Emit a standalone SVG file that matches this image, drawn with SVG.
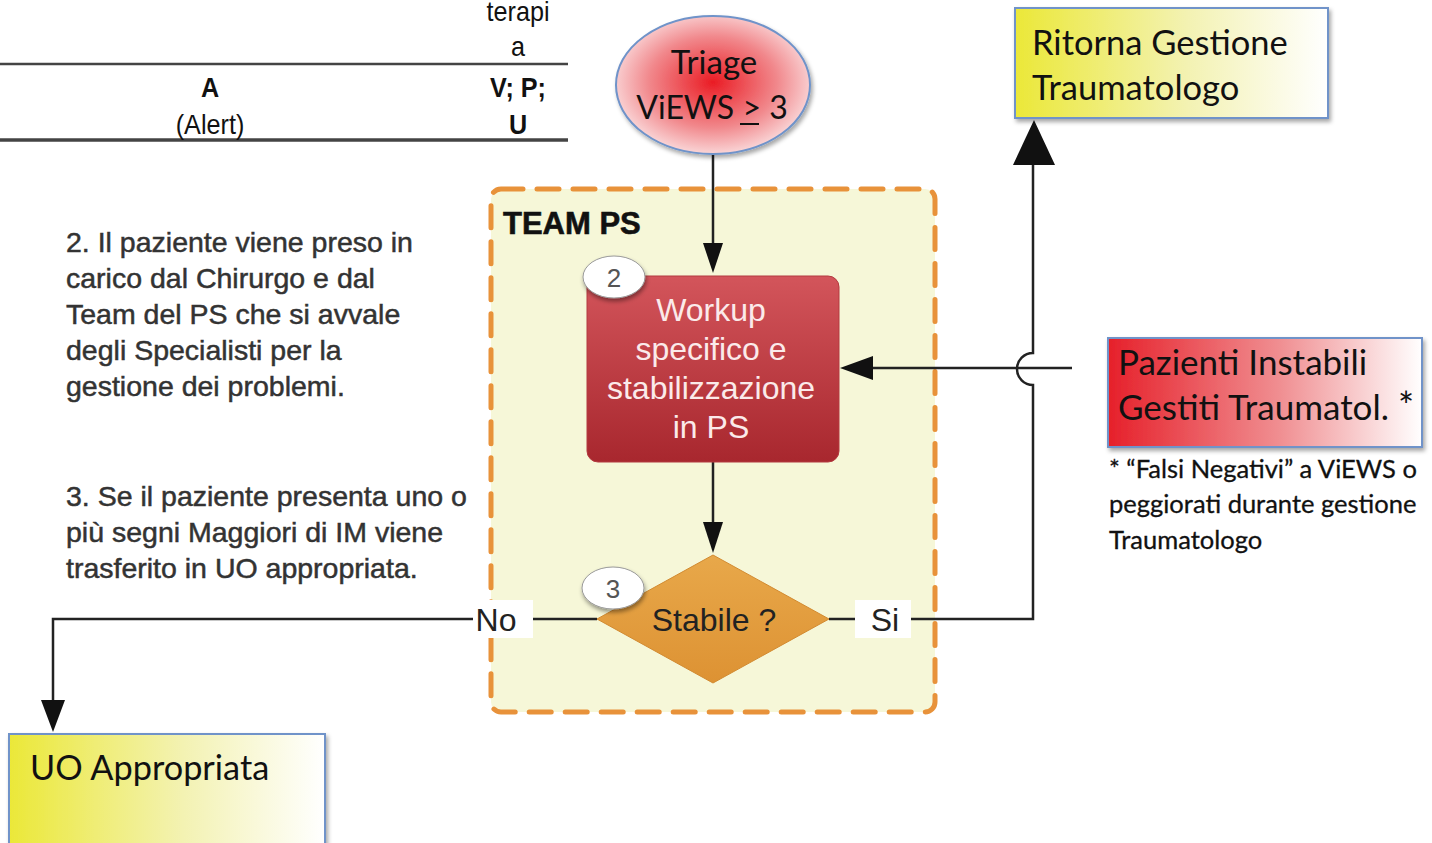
<svg xmlns="http://www.w3.org/2000/svg" width="1432" height="843" viewBox="0 0 1432 843">
  <defs>
    <style>
      .arial { font-family: "Liberation Sans", Arial, sans-serif; }
      .cal { font-family: Lato, "Noto Sans", sans-serif; fill: #111; }
      .note { font-family: "Liberation Sans", Arial, sans-serif; font-size: 28.5px; fill: #333; stroke: #333; stroke-width: 0.5px; }
      .conn { fill: none; stroke: #222; stroke-width: 2.5; }
      .badge { fill: #fff; stroke: #999; stroke-width: 1; }
      .badgeTxt { font-family: "Liberation Sans", Arial, sans-serif; font-size: 26px; fill: #555; text-anchor: middle; }
      .lbl { font-family: "Liberation Sans", Arial, sans-serif; font-size: 32px; fill: #222; text-anchor: middle; }
    </style>
    <radialGradient id="gTriage" cx="0.5" cy="0.48" r="0.55">
      <stop offset="0" stop-color="#ea1c24"/>
      <stop offset="0.6" stop-color="#f1888c"/>
      <stop offset="1" stop-color="#fbe1e2"/>
    </radialGradient>
    <linearGradient id="gYellow" x1="0" y1="0" x2="1" y2="0">
      <stop offset="0" stop-color="#ebe838"/>
      <stop offset="0.55" stop-color="#f3f2b2"/>
      <stop offset="1" stop-color="#ffffff"/>
    </linearGradient>
    <linearGradient id="gRed" x1="0" y1="0" x2="1" y2="0">
      <stop offset="0" stop-color="#e6202a"/>
      <stop offset="0.55" stop-color="#f08f92"/>
      <stop offset="1" stop-color="#ffffff"/>
    </linearGradient>
    <linearGradient id="gWorkup" x1="0" y1="0" x2="0" y2="1">
      <stop offset="0" stop-color="#d3555b"/>
      <stop offset="1" stop-color="#a8272e"/>
    </linearGradient>
    <linearGradient id="gDiamond" x1="0" y1="0" x2="0" y2="1">
      <stop offset="0" stop-color="#e8a84a"/>
      <stop offset="1" stop-color="#dd9233"/>
    </linearGradient>
    <filter id="shadow" x="-10%" y="-10%" width="125%" height="130%">
      <feDropShadow dx="2" dy="3" stdDeviation="2" flood-color="#000" flood-opacity="0.35"/>
    </filter>
    <filter id="soft" x="-20%" y="-20%" width="140%" height="150%">
      <feDropShadow dx="1" dy="3" stdDeviation="2" flood-color="#000" flood-opacity="0.4"/>
    </filter>
  </defs>

  <rect width="1432" height="843" fill="#ffffff"/>

  <!-- table fragment at top left -->
  <g id="table">
    <line x1="0" y1="64" x2="568" y2="64" stroke="#444" stroke-width="2.5"/>
    <line x1="0" y1="140" x2="568" y2="140" stroke="#444" stroke-width="3.5"/>
    <g class="arial" font-size="28" text-anchor="middle" fill="#111">
      <text transform="translate(518,21) scale(0.9,1)">terapi</text>
      <text transform="translate(518,56) scale(0.9,1)">a</text>
      <text transform="translate(210,97) scale(0.9,1)" font-weight="bold">A</text>
      <text transform="translate(210,134) scale(0.9,1)">(Alert)</text>
      <text transform="translate(518,97) scale(0.9,1)" font-weight="bold">V; P;</text>
      <text transform="translate(518,134) scale(0.9,1)" font-weight="bold">U</text>
    </g>
  </g>

  <!-- team container -->
  <g id="team-ps">
    <rect x="491" y="189" width="444" height="523" rx="10" fill="#f6f7d8" stroke="#e8923a" stroke-width="5" stroke-dasharray="22 14" stroke-linecap="round"/>
    <text x="503" y="234" class="arial" font-size="31" font-weight="bold" fill="#111" stroke="#111" stroke-width="0.6">TEAM PS</text>
  </g>

  <!-- connectors -->
  <g id="connectors">
    <line class="conn" x1="713" y1="155" x2="713" y2="250" stroke-width="2"/>
    <path d="M703,243 L723,243 L713,273 Z" fill="#111"/>
    <line class="conn" x1="713" y1="462" x2="713" y2="530" stroke-width="2"/>
    <path d="M703,522 L723,522 L713,553 Z" fill="#111"/>
    <!-- No branch -->
    <path class="conn" d="M597,619 H53 V705" stroke="#444"/>
    <path d="M41,700 L65,700 L53,732 Z" fill="#111"/>
    <!-- Si branch with a hop over the incoming line -->
    <path class="conn" d="M829,619 H1033 V385 A15,15 0 0 1 1033,353 V160"/>
    <path d="M1013,165 L1055,165 L1034,120 Z" fill="#111"/>
    <!-- incoming from the right -->
    <line class="conn" x1="1072" y1="368" x2="870" y2="368"/>
    <path d="M840,368 L873,356 L873,380 Z" fill="#111"/>
    <!-- branch labels -->
    <rect x="473" y="600" width="60" height="38" fill="#ffffff"/>
    <text x="496" y="631" class="lbl">No</text>
    <rect x="855" y="600" width="56" height="38" fill="#ffffff"/>
    <text x="885" y="631" class="lbl">Si</text>
  </g>

  <!-- triage node -->
  <g id="triage">
    <ellipse cx="713" cy="85" rx="97" ry="69" fill="url(#gTriage)" stroke="#6f93c9" stroke-width="2" filter="url(#shadow)"/>
    <text x="714" y="74" class="cal" font-size="33" text-anchor="middle">Triage</text>
    <text x="712" y="119" class="cal" font-size="32" text-anchor="middle">ViEWS <tspan>&gt;</tspan> 3</text>
    <line x1="740" y1="124" x2="759" y2="124" stroke="#111" stroke-width="2"/>
  </g>

  <!-- return node -->
  <g id="ritorna">
    <rect x="1015" y="8" width="313" height="110" fill="url(#gYellow)" stroke="#6f93c9" stroke-width="2" filter="url(#shadow)"/>
    <text x="1032" y="55" class="cal" font-size="34.5">Ritorna Gestione</text>
    <text x="1032" y="100" class="cal" font-size="34.5">Traumatologo</text>
  </g>

  <!-- workup node -->
  <g id="workup">
    <rect x="587" y="276" width="252" height="186" rx="11" fill="url(#gWorkup)" stroke="#b33a40" stroke-width="1"/>
    <g class="arial" font-size="32" fill="#fbeaea" text-anchor="middle">
      <text x="711" y="321">Workup</text>
      <text x="711" y="360">specifico e</text>
      <text x="711" y="399">stabilizzazione</text>
      <text x="711" y="438">in PS</text>
    </g>
    <ellipse cx="614" cy="277" rx="31" ry="21" class="badge" filter="url(#soft)"/>
    <text x="614" y="287" class="badgeTxt">2</text>
  </g>

  <!-- decision node -->
  <g id="stabile">
    <polygon points="713,555 829,619 713,683 597,619" fill="url(#gDiamond)" stroke="#d28a30" stroke-width="1"/>
    <text x="714" y="631" class="arial" font-size="32" fill="#222" text-anchor="middle">Stabile ?</text>
    <ellipse cx="613" cy="588" rx="31" ry="21" class="badge" filter="url(#soft)"/>
    <text x="613" y="598" class="badgeTxt">3</text>
  </g>

  <!-- unstable patients node -->
  <g id="pazienti">
    <rect x="1108" y="338" width="314" height="109" fill="url(#gRed)" stroke="#6f93c9" stroke-width="2" filter="url(#shadow)"/>
    <text x="1118" y="375" class="cal" font-size="35">Pazienti Instabili</text>
    <text x="1118" y="420" class="cal" font-size="35">Gestiti Traumatol. <tspan font-size="38">*</tspan></text>
  </g>

  <!-- footnote -->
  <g id="footnote" class="cal" font-size="25.5" stroke="#111" stroke-width="0.3">
    <text x="1109" y="478">* “Falsi Negativi” a ViEWS o</text>
    <text x="1109" y="513">peggiorati durante gestione</text>
    <text x="1109" y="549">Traumatologo</text>
  </g>

  <!-- destination unit -->
  <g id="uo">
    <rect x="9" y="734" width="316" height="120" fill="url(#gYellow)" stroke="#6f93c9" stroke-width="2" filter="url(#shadow)"/>
    <text x="30" y="780" class="cal" font-size="34.3">UO Appropriata</text>
  </g>

  <!-- explanatory notes -->
  <g id="notes" class="note">
    <text x="66" y="252">2. Il paziente viene preso in</text>
    <text x="66" y="288">carico dal Chirurgo e dal</text>
    <text x="66" y="324">Team del PS che si avvale</text>
    <text x="66" y="360">degli Specialisti per la</text>
    <text x="66" y="396">gestione dei problemi.</text>
    <text x="66" y="506">3. Se il paziente presenta uno o</text>
    <text x="66" y="542">più segni Maggiori di IM viene</text>
    <text x="66" y="578">trasferito in UO appropriata.</text>
  </g>
</svg>
